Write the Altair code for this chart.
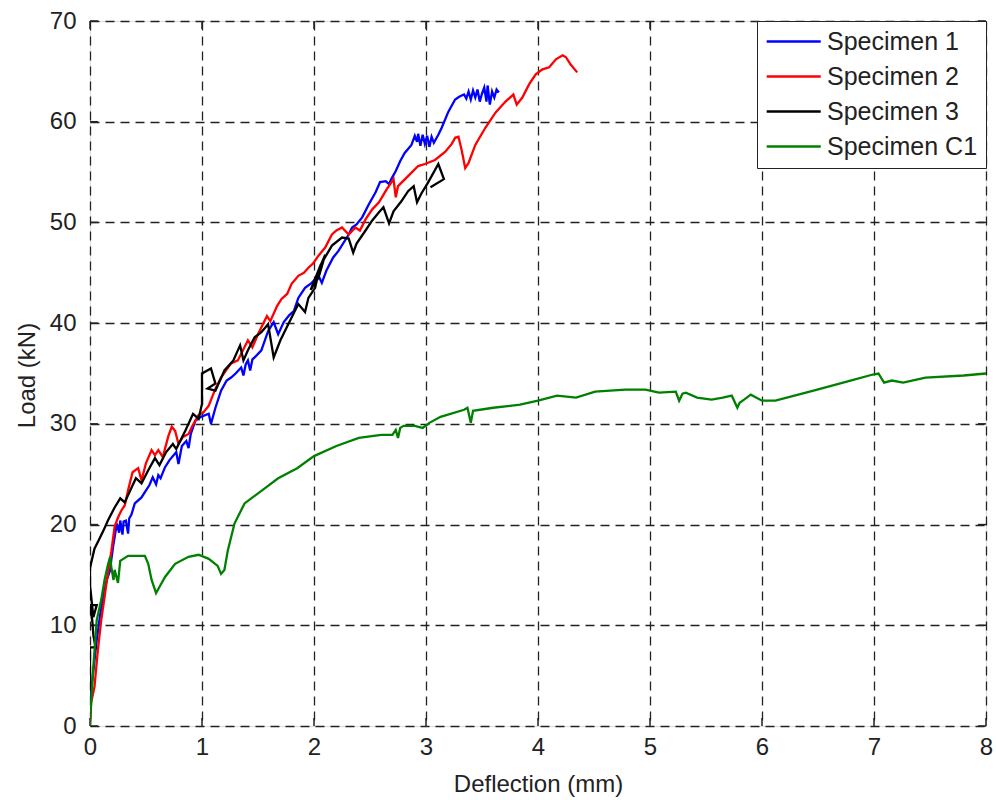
import altair as alt
import pandas as pd

# ---------------- data ----------------
series_names = ["Specimen 1", "Specimen 2", "Specimen 3", "Specimen C1"]
series_colors = ["#0000ff", "#ff0000", "#000000", "#008000"]

s1_x = [0, 0.0, 0.02, 0.04, 0.06, 0.09, 0.12, 0.15, 0.18, 0.19, 0.21, 0.24, 0.26, 0.27, 0.29, 0.30, 0.32, 0.34, 0.35, 0.37,
        0.40, 0.46, 0.50, 0.53, 0.56, 0.59, 0.61, 0.63, 0.67, 0.71, 0.77, 0.79, 0.82, 0.86, 0.88, 0.90, 0.94, 0.99, 1.06, 1.08,
        1.12, 1.17, 1.22, 1.26, 1.30, 1.35, 1.37, 1.39, 1.41, 1.43, 1.45, 1.47, 1.53, 1.59, 1.64, 1.68, 1.73, 1.78, 1.82, 1.86,
        1.92, 1.98, 2.04, 2.07, 2.11, 2.17, 2.22, 2.31, 2.34, 2.38, 2.43, 2.49, 2.55, 2.59, 2.64, 2.67, 2.69, 2.73, 2.77, 2.81,
        2.87, 2.90, 2.92, 2.93, 2.95, 2.97, 2.99, 3.01, 3.03, 3.05, 3.07, 3.11, 3.14, 3.20, 3.26, 3.30, 3.34, 3.36, 3.38, 3.40,
        3.42, 3.44, 3.46, 3.48, 3.50, 3.52, 3.54, 3.55, 3.57, 3.59, 3.61, 3.63, 3.65]
s1_y = [0, 3.5, 4.5, 6.5, 8.5, 11.0, 13.0, 14.5, 15.5, 16.5, 18.1, 20.1, 19.2, 20.4, 19.0, 20.3, 20.4, 19.1, 20.6, 21.0,
        22.1, 22.7, 23.4, 23.9, 24.7, 24.0, 24.9, 24.6, 25.7, 26.4, 27.2, 26.0, 27.8, 28.3, 27.6, 29.0, 30.3, 30.7, 31.0, 30.0,
        31.6, 33.3, 34.3, 34.6, 35.0, 35.6, 34.8, 35.9, 36.3, 35.3, 36.4, 36.6, 37.3, 39.2, 40.1, 38.9, 40.1, 40.8, 41.2, 42.5,
        43.5, 44.0, 44.7, 44.0, 45.2, 46.5, 47.2, 48.8, 49.5, 49.8, 50.5, 51.8, 53.0, 54.0, 54.1, 53.8, 54.3, 55.1, 56.1, 56.9,
        57.7, 58.6, 58.0, 58.8, 57.6, 58.7, 57.8, 58.6, 57.5, 58.5, 57.9, 58.7, 59.4, 61.0, 62.2, 62.5, 62.7, 62.3, 63.0, 62.2,
        63.1, 62.4, 63.2, 62.0, 62.8, 63.4, 62.0, 63.6, 61.7, 63.0, 62.4, 63.2, 62.9]

s2_x = [0, 0.01, 0.04, 0.07, 0.10, 0.13, 0.16, 0.19, 0.22, 0.25, 0.28, 0.31, 0.34, 0.38, 0.43, 0.46, 0.50, 0.55, 0.58, 0.61,
        0.65, 0.70, 0.73, 0.76, 0.79, 0.83, 0.88, 0.91, 0.97, 1.01, 1.06, 1.12, 1.17, 1.22, 1.26, 1.32, 1.41, 1.45, 1.50, 1.58,
        1.61, 1.67, 1.71, 1.76, 1.80, 1.86, 1.91, 1.95, 1.99, 2.04, 2.10, 2.16, 2.20, 2.25, 2.31, 2.37, 2.41, 2.46, 2.52, 2.58,
        2.65, 2.71, 2.73, 2.75, 2.84, 2.93, 2.99, 3.08, 3.17, 3.23, 3.26, 3.29, 3.32, 3.35, 3.38, 3.44, 3.53, 3.62, 3.71, 3.78,
        3.81, 3.86, 3.92, 3.98, 4.04, 4.10, 4.16, 4.22, 4.25, 4.29, 4.35]
s2_y = [0, 2.3, 3.9, 7.5, 10.5, 12.8, 15.2, 17.3, 19.8, 20.7, 21.4, 21.9, 23.4, 25.2, 25.6, 24.4, 26.1, 27.4, 26.9, 27.4,
        26.7, 28.8, 29.7, 29.3, 28.0, 28.7, 29.0, 29.7, 30.9, 31.1, 31.8, 33.5, 34.6, 35.4, 36.0, 36.3, 38.3, 37.6, 38.9, 40.7,
        40.2, 41.7, 42.4, 42.9, 43.9, 44.7, 45.0, 45.5, 45.9, 46.7, 47.5, 48.8, 49.2, 49.5, 48.8, 49.5, 49.2, 50.3, 51.3, 52.0,
        53.3, 54.3, 52.5, 53.6, 54.6, 55.6, 55.8, 56.2, 57.0, 57.8, 58.4, 58.5, 57.1, 55.4, 55.9, 57.7, 59.4, 60.9, 62.0, 62.7,
        61.7, 62.4, 63.7, 64.7, 65.2, 65.4, 66.2, 66.6, 66.4, 65.7, 64.9]

s3_x = [0.0, 0.0, 0.05, 0.03, 0.02, 0.0, 0.06, 0.03, 0.0, 0.0, 0.04, 0.08, 0.12, 0.16, 0.22, 0.27, 0.31, 0.36, 0.41, 0.46,
        0.52, 0.58, 0.62, 0.68, 0.74, 0.77, 0.85, 0.92, 0.97, 1.00, 1.00, 1.08, 1.12, 1.05, 1.12, 1.20, 1.28, 1.34, 1.37, 1.41,
        1.47, 1.53, 1.59, 1.64, 1.70, 1.77, 1.86, 1.92, 1.95, 2.01, 2.05, 2.10, 2.04, 1.97, 2.06, 2.16, 2.25, 2.31, 2.35, 2.38,
        2.46, 2.52, 2.58, 2.62, 2.67, 2.71, 2.78, 2.84, 2.89, 2.92, 2.96, 3.01, 3.05, 3.11, 3.16, 3.04]
s3_y = [3.5, 7.8, 7.8, 9.0, 10.5, 12.0, 12.0, 10.8, 14.0, 15.7, 17.6, 18.5, 19.4, 20.4, 21.7, 22.6, 22.2, 23.4, 24.6, 24.1,
        25.4, 26.6, 25.9, 27.2, 28.0, 27.5, 29.3, 31.0, 30.5, 32.0, 35.0, 35.5, 34.0, 33.5, 33.3, 35.3, 36.3, 37.8, 36.3, 37.3,
        38.6, 39.1, 39.9, 36.6, 38.3, 39.9, 41.9, 41.1, 42.5, 43.5, 45.5, 46.8, 44.5, 43.3, 45.8, 47.7, 48.5, 48.4, 47.0, 47.9,
        49.2, 50.2, 51.0, 51.5, 49.9, 51.1, 52.1, 53.1, 53.6, 52.0, 52.9, 53.8, 54.6, 55.8, 54.3, 53.5]

c1_x = [0, 0.0, 0.03, 0.06, 0.10, 0.13, 0.16, 0.18, 0.19, 0.21, 0.22, 0.25, 0.27, 0.34, 0.49, 0.52, 0.55, 0.59, 0.62, 0.67,
        0.76, 0.88, 0.97, 1.06, 1.14, 1.17, 1.20, 1.23, 1.29, 1.38, 1.44, 1.56, 1.68, 1.85, 2.0, 2.2, 2.4, 2.6, 2.70, 2.73,
        2.75, 2.77, 2.80, 2.90, 2.97, 3.03, 3.13, 3.34, 3.37, 3.40, 3.42, 3.60, 3.84, 4.0, 4.17, 4.34, 4.51, 4.78, 4.96, 5.08,
        5.23, 5.26, 5.29, 5.32, 5.42, 5.55, 5.65, 5.73, 5.78, 5.80, 5.84, 5.90, 6.0, 6.12, 6.46, 6.79, 6.99, 7.04, 7.09, 7.16,
        7.26, 7.46, 7.80, 8.0]
c1_y = [0, 0.4, 5.9, 10.5, 12.5, 14.5, 16.0, 16.8, 15.8, 14.5, 15.5, 14.2, 16.4, 16.9, 16.9, 16.1, 14.5, 13.2, 13.8, 14.8,
        16.1, 16.8, 17.0, 16.6, 15.9, 15.1, 15.5, 17.4, 20.1, 22.1, 22.6, 23.6, 24.6, 25.6, 26.8, 27.8, 28.6, 28.9, 28.9, 29.4,
        28.6, 29.6, 29.8, 29.8, 29.6, 30.1, 30.7, 31.4, 31.6, 30.1, 31.3, 31.6, 31.9, 32.3, 32.8, 32.6, 33.2, 33.4, 33.4, 33.1,
        33.2, 32.3, 33.0, 33.1, 32.6, 32.4, 32.6, 32.8, 31.6, 32.1, 32.4, 32.9, 32.3, 32.3, 33.3, 34.3, 34.9, 35.0, 34.1, 34.3,
        34.1, 34.6, 34.8, 35.0]

x_ticks = [0, 1, 2, 3, 4, 5, 6, 7, 8]
y_ticks = [0, 10, 20, 30, 40, 50, 60, 70]

# ---------------- tables ----------------
rows = []
for name, xs, ys in zip(series_names, [s1_x, s2_x, s3_x, c1_x], [s1_y, s2_y, s3_y, c1_y]):
    for i, (a, b) in enumerate(zip(xs, ys)):
        rows.append({"series": name, "x": a, "y": b, "i": i})
df = pd.DataFrame(rows)
xt_df = pd.DataFrame({"x": x_ticks})
yt_df = pd.DataFrame({"y": y_ticks})

W, H = 896, 705
FONT = "Liberation Sans"
TXT = "#222222"

x_scale = alt.Scale(domain=[0, 8], nice=False, zero=False, padding=0)
y_scale = alt.Scale(domain=[0, 70], nice=False, padding=0)

x_axis = alt.Axis(values=x_ticks, format="d", title="Deflection (mm)", ticks=False, domain=False,
                  grid=True, gridDash=[9, 6], gridColor="#222222", gridWidth=1.3, gridOpacity=1,
                  labelFlush=False, labelOverlap=False, labelBound=False,
                  labelPadding=9, labelFontSize=24, labelColor=TXT, labelFont=FONT,
                  titleFontSize=24, titleFont=FONT, titleColor=TXT, titleFontWeight="normal",
                  titleY=58, titleBaseline="middle")
y_axis = alt.Axis(values=y_ticks, format="d", title="Load (kN)", ticks=False, domain=False,
                  grid=True, gridDash=[9, 6], gridColor="#222222", gridWidth=1.3, gridOpacity=1,
                  labelFlush=False, labelOverlap=False, labelBound=False,
                  labelPadding=14, labelFontSize=24, labelColor=TXT, labelFont=FONT,
                  titleFontSize=24, titleFont=FONT, titleColor=TXT, titleFontWeight="normal",
                  titleX=-63, titleY=354, titleAngle=270, titleBaseline="middle", titleAlign="center")

lines = alt.Chart(df).mark_line(strokeWidth=2.3, clip=True).encode(
    x=alt.X("x:Q", scale=x_scale, axis=x_axis),
    y=alt.Y("y:Q", scale=y_scale, axis=y_axis),
    color=alt.Color("series:N", scale=alt.Scale(domain=series_names, range=series_colors),
                    legend=alt.Legend(title=None, orient="top-right", offset=0,
                                      strokeColor="#222222", fillColor="white", padding=8,
                                      symbolType="M-1,0H4", symbolSize=467, symbolStrokeWidth=2.5,
                                      labelFontSize=25, labelFont=FONT, labelColor=TXT,
                                      labelOffset=37, rowPadding=9, cornerRadius=0)),
    order=alt.Order("i:Q"),
)

tick_style = dict(color="#222222", strokeWidth=1.5)
bottom_ticks = alt.Chart(xt_df).mark_rule(**tick_style).encode(
    x=alt.X("x:Q", scale=x_scale, axis=x_axis), y=alt.value(H), y2=alt.value(H - 8))
top_ticks = alt.Chart(xt_df).mark_rule(**tick_style).encode(
    x=alt.X("x:Q", scale=x_scale, axis=x_axis), y=alt.value(0), y2=alt.value(8))
left_ticks = alt.Chart(yt_df).mark_rule(**tick_style).encode(
    y=alt.Y("y:Q", scale=y_scale, axis=y_axis), x=alt.value(0), x2=alt.value(8))
right_ticks = alt.Chart(yt_df).mark_rule(**tick_style).encode(
    y=alt.Y("y:Q", scale=y_scale, axis=y_axis), x=alt.value(W), x2=alt.value(W - 8))

chart = alt.layer(bottom_ticks, top_ticks, left_ticks, right_ticks, lines).properties(
    width=W, height=H,
    autosize=alt.AutoSizeParams(type="none"),
    padding={"left": 90, "top": 21, "right": 10, "bottom": 74},
    background="white",
).configure_view(stroke="#222222", strokeWidth=2).configure(font=FONT)

chart.save("out.html", embed_options={"renderer": "svg", "actions": False})
